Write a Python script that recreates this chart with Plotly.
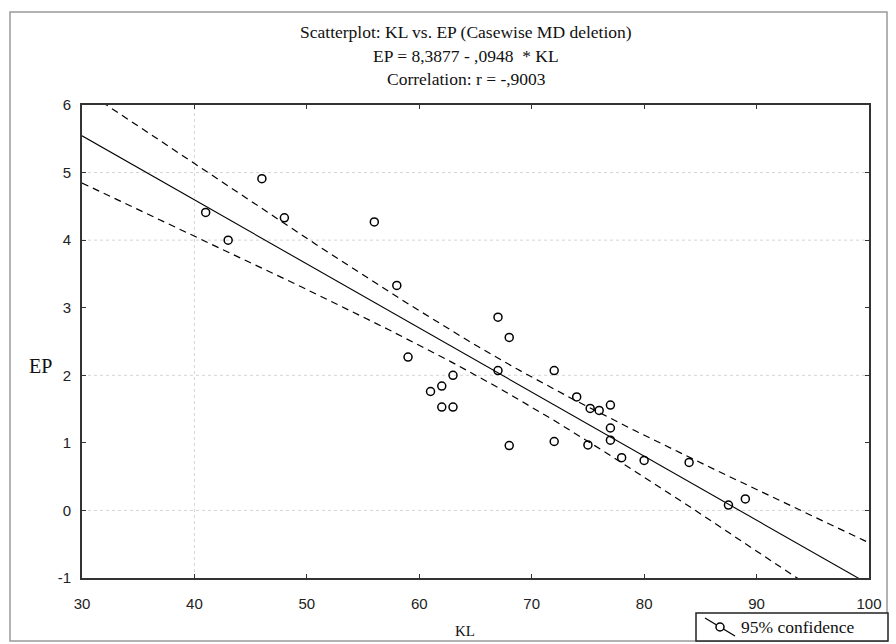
import numpy as np
import plotly.graph_objects as go

# ---- data ----
kl = [41, 43, 46, 48, 56, 58, 59, 61, 62, 62, 63, 63, 67, 67, 68, 68,
      72, 72, 74, 75, 75.2, 76, 77, 77, 77, 78, 80, 84, 87.5, 89]
ep = [4.41, 4.00, 4.91, 4.33, 4.27, 3.33, 2.27, 1.76, 1.84, 1.53, 2.00, 1.53,
      2.86, 2.07, 2.56, 0.96, 2.07, 1.02, 1.68, 0.97, 1.51, 1.48, 1.56, 1.22,
      1.04, 0.78, 0.74, 0.71, 0.08, 0.17]
intercept = 8.3877
slope = -0.0948
t_crit = 2.048  # t(0.975, n-2=28)
x_ticks = [30, 40, 50, 60, 70, 80, 90, 100]
x_tick_text = ["30", "40", "50", "60", "70", "80", "90", "100"]
y_ticks = [-1, 0, 1, 2, 3, 4, 5, 6]
y_tick_text = ["-1", "0", "1", "2", "3", "4", "5", "6"]
grid_y = [0, 2, 4, 5]     # visible dotted grid lines in the reference
grid_x = [40]
legend_label = "95% confidence"

# ---- regression line and 95% confidence band ----
x = np.array(kl, dtype=float)
y = np.array(ep, dtype=float)
n = len(x)
xs = np.linspace(30, 100, 281)
fit = intercept + slope * xs
resid = y - (intercept + slope * x)
s = np.sqrt(np.sum(resid ** 2) / (n - 2))
sxx = np.sum((x - x.mean()) ** 2)
half = t_crit * s * np.sqrt(1.0 / n + (xs - x.mean()) ** 2 / sxx)

serif = "Liberation Serif"
sans = "Liberation Sans"

fig = go.Figure()
fig.add_trace(go.Scatter(x=xs, y=fit + half, mode="lines", showlegend=False,
                         line=dict(color="black", width=1.2, dash="7px,5px"), hoverinfo="skip"))
fig.add_trace(go.Scatter(x=xs, y=fit - half, mode="lines", showlegend=False,
                         line=dict(color="black", width=1.2, dash="7px,5px"), hoverinfo="skip"))
fig.add_trace(go.Scatter(x=xs, y=fit, mode="lines", showlegend=False,
                         line=dict(color="black", width=1.1), hoverinfo="skip"))
fig.add_trace(go.Scatter(x=kl, y=ep, mode="markers", showlegend=False,
                         marker=dict(symbol="circle-open", size=8, color="black",
                                     line=dict(width=1.5, color="black"))))

W, H = 896, 644
L, R, T, B = 82, 27, 105, 66
pw, ph = W - L - R, H - T - B

def px(xp):
    return (xp - L) / pw

def py(yp):
    return (H - B - yp) / ph

title_lines = ["Scatterplot: KL vs. EP (Casewise MD deletion)",
               "EP = 8,3877 - ,0948  * KL",
               "Correlation: r = -,9003"]
title_y = [32, 56, 79]
annotations = []
for txt, ty in zip(title_lines, title_y):
    annotations.append(dict(text=txt, x=px(466), y=py(ty), xref="paper", yref="paper",
                            showarrow=False, xanchor="center", yanchor="middle",
                            font=dict(family=serif, size=17.5, color="#111")))
annotations.append(dict(text="EP", x=px(40), y=py(366), xref="paper", yref="paper",
                        showarrow=False, xanchor="center", yanchor="middle",
                        font=dict(family=serif, size=20, color="#111")))
annotations.append(dict(text="KL", x=px(465), y=py(631), xref="paper", yref="paper",
                        showarrow=False, xanchor="center", yanchor="middle",
                        font=dict(family=serif, size=15, color="#111")))
# legend text
annotations.append(dict(text=legend_label, x=px(739), y=py(627), xref="paper", yref="paper",
                        showarrow=False, xanchor="left", yanchor="middle",
                        font=dict(family=serif, size=17.5, color="#111")))

axis_common = dict(showline=True, linecolor="#333", linewidth=2, mirror="ticks",
                   ticks="inside", ticklen=4, tickcolor="#333", tickwidth=1,
                   showgrid=False, zeroline=False, automargin=False,
                   tickfont=dict(family=sans, size=15, color="#222"))

shapes = [dict(type="rect", xref="paper", yref="paper",
               x0=px(10), x1=px(887), y0=py(641), y1=py(12),
               line=dict(color="#999", width=1.5), layer="below")]
for gy in grid_y:
    shapes.append(dict(type="line", xref="paper", yref="y", x0=0, x1=1, y0=gy, y1=gy,
                       line=dict(color="#d4d4d4", width=1, dash="dot"), layer="below"))
for gx in grid_x:
    shapes.append(dict(type="line", xref="x", yref="paper", x0=gx, x1=gx, y0=0, y1=1,
                       line=dict(color="#d4d4d4", width=1, dash="dot"), layer="below"))
# legend box and symbol (diagonal line with open circle)
shapes.append(dict(type="rect", xref="paper", yref="paper",
                   x0=px(696), x1=px(888), y0=py(641), y1=py(613),
                   line=dict(color="#222", width=1.5), fillcolor="white"))
shapes.append(dict(type="line", xref="paper", yref="paper",
                   x0=px(705), y0=py(618), x1=px(735), y1=py(636),
                   line=dict(color="black", width=1.3)))
shapes.append(dict(type="circle", xref="paper", yref="paper",
                   x0=px(716), x1=px(724), y0=py(631), y1=py(623),
                   line=dict(color="black", width=1.5), fillcolor="white"))

fig.update_layout(
    width=W, height=H,
    margin=dict(l=L, r=R, t=T, b=B, pad=0),
    paper_bgcolor="white", plot_bgcolor="white",
    xaxis=dict(range=[30, 100], tickvals=x_ticks, ticktext=x_tick_text,
               ticklabelstandoff=11, **axis_common),
    yaxis=dict(range=[-1, 6], tickvals=y_ticks, ticktext=y_tick_text,
               ticklabelstandoff=6, **axis_common),
    annotations=annotations,
    showlegend=False,
    shapes=shapes,
)

fig.write_html("out.html", config={"displayModeBar": False},
               post_script="document.body.style.margin='0';")
